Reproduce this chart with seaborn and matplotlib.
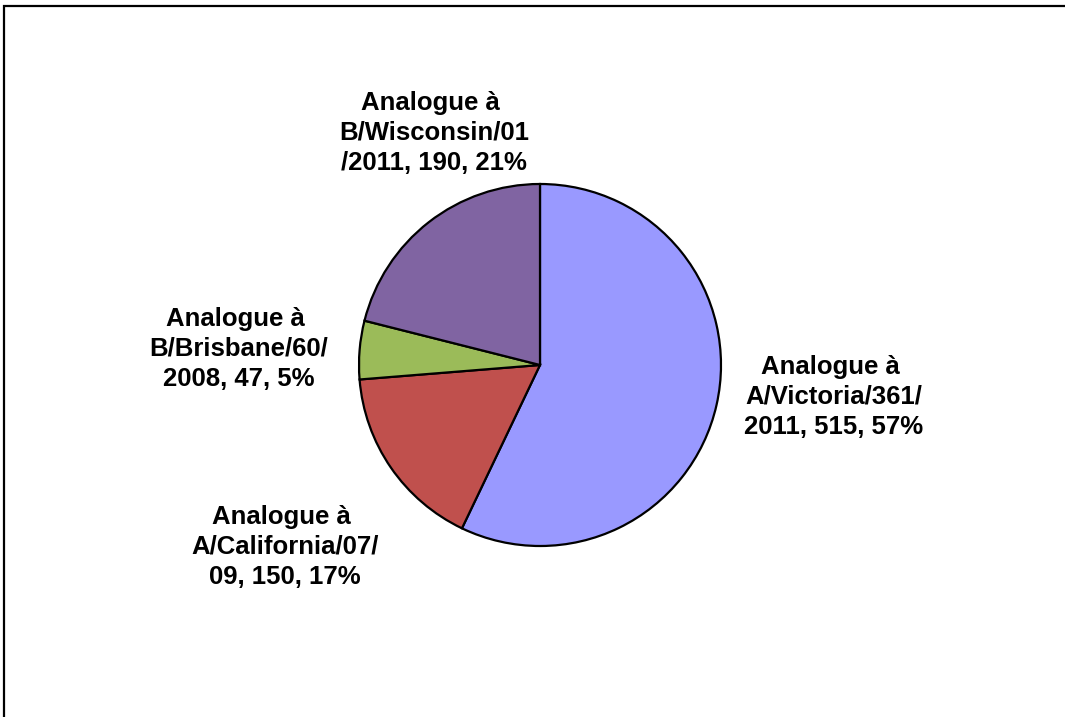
import matplotlib
matplotlib.use("Agg")
import matplotlib.pyplot as plt
import seaborn as sns
from matplotlib.patches import Rectangle

# Strain groups, counts and displayed labels
strains = ["A/Victoria/361/2011", "A/California/07/09",
           "B/Brisbane/60/2008", "B/Wisconsin/01/2011"]
counts = [515, 150, 47, 190]
percents = [57, 17, 5, 21]
label_lines = [
    "Analogue à \nA/Victoria/361/\n2011, 515, 57%",
    "Analogue à \nA/California/07/\n09, 150, 17%",
    "Analogue à \nB/Brisbane/60/\n2008, 47, 5%",
    "Analogue à \nB/Wisconsin/01\n/2011, 190, 21%",
]
colors = ["#9999FF", "#C0504D", "#9BBB59", "#8064A2"]

sns.set_theme(style="white")
plt.rcParams["font.family"] = ["Liberation Sans", "DejaVu Sans"]

W, H = 1065, 717
fig = plt.figure(figsize=(W / 100, H / 100), dpi=100)
fig.patch.set_facecolor("white")

# pie placement (pixel-based)
cx, cy, r = 540, 365, 181
ax = fig.add_axes([(cx - r) / W, (H - cy - r) / H, 2 * r / W, 2 * r / H])
ax.pie(counts, colors=colors, startangle=90, counterclock=False,
       wedgeprops=dict(edgecolor="black", linewidth=1.6))
ax.set_xlim(-1, 1)
ax.set_ylim(-1, 1)
ax.set_aspect("equal")
ax.axis("off")

# data labels
label_pos = [(834, 397), (285, 547), (239, 349), (434, 133)]
for txt, (x, y) in zip(label_lines, label_pos):
    fig.text(x / W, 1 - y / H, txt, ha="center", va="center",
             fontsize=18.5, fontweight="bold", color="black",
             linespacing=1.34, multialignment="center")

# chart area border
fig.patches.append(Rectangle((4.5 / W, -0.01), 1.05, 1 - 6 / H + 0.01,
                             transform=fig.transFigure, fill=False,
                             edgecolor="black", linewidth=1.6))

fig.savefig("out.png", dpi=100)
